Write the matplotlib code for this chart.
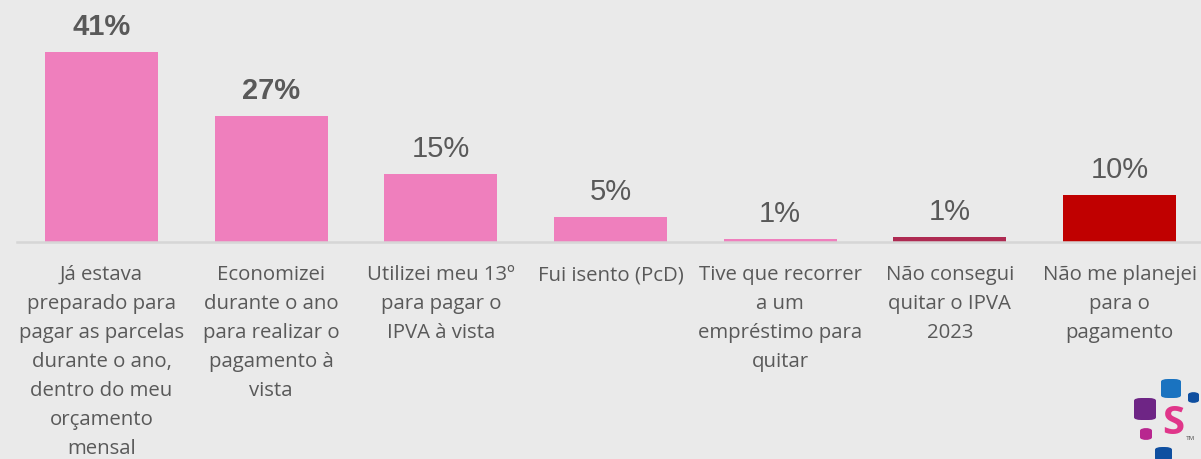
import matplotlib
matplotlib.use("Agg")
import matplotlib.pyplot as plt
from matplotlib.patches import FancyBboxPatch
import matplotlib.transforms as mtransforms

categories = [
    "Já estava\npreparado para\npagar as parcelas\ndurante o ano,\ndentro do meu\norçamento\nmensal",
    "Economizei\ndurante o ano\npara realizar o\npagamento à\nvista",
    "Utilizei meu 13º\npara pagar o\nIPVA à vista",
    "Fui isento (PcD)",
    "Tive que recorrer\na um\nempréstimo para\nquitar",
    "Não consegui\nquitar o IPVA\n2023",
    "Não me planejei\npara o\npagamento",
]
values = [41.0, 27.2, 14.7, 5.4, 0.7, 1.1, 10.2]
bold_labels = [True, True, False, False, False, False, False]
colors = ["#EF7FBD", "#EF7FBD", "#EF7FBD", "#EF7FBD", "#EF7FBD", "#AE2A52", "#C00000"]

W, H = 1201, 459
bg = "#EAEAEA"
txt = "#595959"

fig = plt.figure(figsize=(W / 100, H / 100), dpi=100, facecolor=bg)
ax = fig.add_axes([17 / W, 1 - 242 / H, (1201 - 17) / W, 242 / H])
ax.set_facecolor(bg)

x = list(range(len(values)))
ax.bar(x, values, width=0.666, color=colors, zorder=2)
ax.set_xlim(-0.498, 6.48)
ax.set_ylim(0, 52.3)

for s in ["top", "left", "right"]:
    ax.spines[s].set_visible(False)
ax.spines["bottom"].set_color("#D6D6D6")
ax.spines["bottom"].set_linewidth(1.8)
ax.set_yticks([])
ax.set_xticks([])

for xi, v, b in zip(x, values, bold_labels):
    ax.annotate(f"{v:.0f}%", (xi, v), xytext=(0, 17), textcoords="offset pixels",
                ha="center", va="baseline", fontsize=21,
                fontweight="bold" if b else "normal",
                family="Liberation Sans", color=txt)

trans = mtransforms.blended_transform_factory(ax.transData, ax.transAxes)
for xi, c in zip(x, categories):
    t = ax.text(xi, 0, c, ha="center", va="top",
                fontsize=14.7, family="Open Sans", color=txt, linespacing=1.6)
    t.set_transform(trans + mtransforms.ScaledTranslation(0, -23 / 100, fig.dpi_scale_trans))

# logo (decorative)
def sq(x0, y0, w, h, col):
    p = FancyBboxPatch((x0 / W, 1 - (y0 + h) / H), w / W, h / H,
                       boxstyle="round,pad=0,rounding_size=0.006",
                       transform=fig.transFigure, facecolor=col, edgecolor="none")
    fig.patches.append(p)

sq(1161, 379, 20, 19, "#1A73C0")
sq(1188, 392, 11, 11, "#0F4FA0")
sq(1134, 398, 22, 22, "#6E2585")
sq(1140, 428, 12, 12, "#B8278F")
sq(1155, 447, 17, 14, "#0F4FA0")
fig.text(1173 / W, 1 - 424 / H, "S", ha="center", va="center", fontsize=29,
         family="Open Sans", color="#E0368A", fontweight="bold")
fig.text(1190 / W, 1 - 438 / H, "TM", ha="center", va="center", fontsize=4.5,
         family="Liberation Sans", color="#555555")

fig.savefig("out.png", dpi=100, facecolor=bg)
